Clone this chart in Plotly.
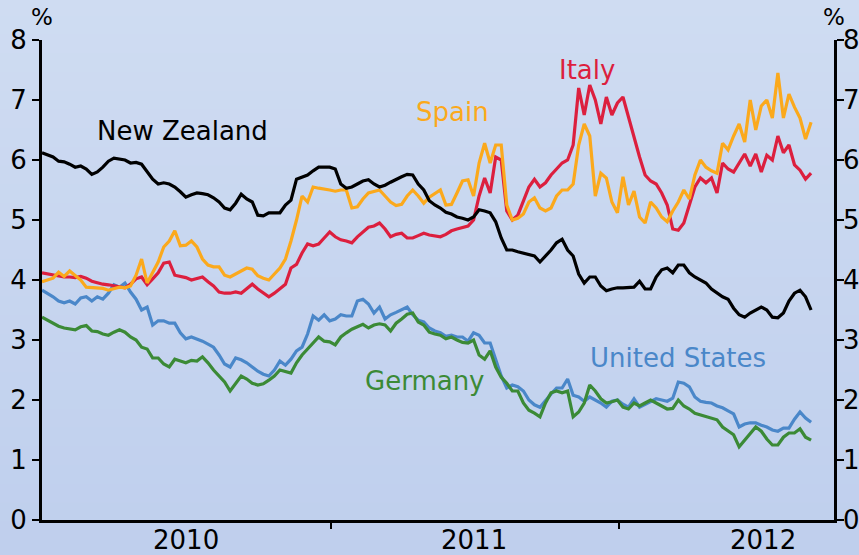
import pandas as pd
import plotly.graph_objects as go

# Weekly observations, 10-year government bond yields (%)
dates = pd.date_range("2010-01-01", periods=140, freq="7D")

new_zealand = [
    6.12, 6.08, 6.05, 5.98, 5.97, 5.93, 5.88, 5.90, 5.85, 5.76,
    5.80, 5.88, 5.98, 6.03, 6.02, 6.00, 5.95, 5.96, 5.93, 5.80,
    5.68, 5.60, 5.62, 5.60, 5.55, 5.47, 5.38, 5.42, 5.45, 5.44,
    5.42, 5.37, 5.30, 5.20, 5.17, 5.28, 5.43, 5.35, 5.30, 5.08,
    5.07, 5.12, 5.12, 5.12, 5.25, 5.33, 5.68, 5.72, 5.75, 5.82,
    5.88, 5.88, 5.88, 5.85, 5.60, 5.53, 5.55, 5.60, 5.65, 5.67,
    5.60, 5.55, 5.58, 5.63, 5.68, 5.72, 5.76, 5.75, 5.60, 5.50,
    5.32, 5.25, 5.20, 5.13, 5.10, 5.05, 5.03, 5.00, 5.05, 5.17,
    5.15, 5.12, 4.97, 4.70, 4.50, 4.50, 4.47, 4.45, 4.43, 4.40,
    4.30, 4.40, 4.50, 4.62, 4.68, 4.50, 4.40, 4.10, 3.95, 4.05,
    4.05, 3.90, 3.82, 3.85, 3.87, 3.87, 3.88, 3.88, 3.98, 3.85,
    3.85, 4.05, 4.17, 4.20, 4.12, 4.25, 4.25, 4.12, 4.05, 4.00,
    3.95, 3.85, 3.78, 3.72, 3.68, 3.53, 3.42, 3.38, 3.45, 3.50,
    3.55, 3.50, 3.38, 3.37, 3.45, 3.65, 3.78, 3.83, 3.72, 3.50,
]

italy = [
    4.12, 4.10, 4.08, 4.06, 4.05, 4.05, 4.04, 4.06, 4.03, 3.98,
    3.95, 3.93, 3.92, 3.90, 3.88, 3.87, 3.93, 4.02, 4.05, 3.92,
    4.02, 4.12, 4.28, 4.30, 4.08, 4.06, 4.04, 4.00, 4.03, 4.05,
    3.97, 3.90, 3.80, 3.78, 3.78, 3.80, 3.78, 3.85, 3.93, 3.85,
    3.78, 3.72, 3.78, 3.85, 3.93, 4.20, 4.26, 4.45, 4.60, 4.57,
    4.60, 4.70, 4.80, 4.72, 4.67, 4.65, 4.62, 4.72, 4.80, 4.88,
    4.90, 4.95, 4.85, 4.72, 4.76, 4.78, 4.70, 4.70, 4.74, 4.78,
    4.75, 4.73, 4.72, 4.76, 4.82, 4.85, 4.87, 4.90, 5.00, 5.40,
    5.70, 5.45, 6.05, 6.00, 5.15, 5.00, 5.08, 5.30, 5.55, 5.68,
    5.55, 5.62, 5.75, 5.85, 5.95, 6.00, 6.25, 7.20, 6.75, 7.25,
    7.00, 6.60, 7.05, 6.75, 6.95, 7.05, 6.70, 6.35, 6.05, 5.75,
    5.65, 5.60, 5.45, 5.25, 4.85, 4.83, 4.95, 5.25, 5.55, 5.70,
    5.62, 5.70, 5.45, 5.95, 5.85, 5.80, 5.95, 6.10, 5.90, 6.10,
    5.80, 6.08, 6.00, 6.40, 6.12, 6.25, 5.92, 5.83, 5.68, 5.78,
]

spain = [
    3.97, 4.00, 4.03, 4.13, 4.06, 4.15, 4.08, 4.00, 3.88, 3.87,
    3.87, 3.86, 3.83, 3.86, 3.88, 3.87, 3.90, 4.08, 4.35, 3.95,
    4.12, 4.30, 4.55, 4.65, 4.82, 4.57, 4.58, 4.65, 4.55, 4.35,
    4.25, 4.22, 4.22, 4.08, 4.05, 4.10, 4.15, 4.20, 4.18, 4.07,
    4.03, 4.00, 4.10, 4.20, 4.35, 4.65, 5.00, 5.40, 5.30, 5.55,
    5.53, 5.52, 5.50, 5.48, 5.50, 5.50, 5.20, 5.22, 5.35, 5.45,
    5.48, 5.50, 5.40, 5.30, 5.24, 5.26, 5.40, 5.50, 5.40, 5.28,
    5.38, 5.44, 5.50, 5.25, 5.26, 5.45, 5.65, 5.67, 5.40, 5.95,
    6.28, 5.95, 6.25, 6.25, 5.25, 5.00, 5.03, 5.10, 5.30, 5.37,
    5.20, 5.15, 5.20, 5.40, 5.50, 5.50, 5.60, 6.25, 6.60, 6.40,
    5.40, 5.78, 5.70, 5.30, 5.12, 5.72, 5.25, 5.48, 5.05, 4.95,
    5.30, 5.20, 5.05, 4.97, 5.15, 5.30, 5.50, 5.35, 5.75, 6.00,
    5.88, 5.82, 5.78, 6.28, 6.17, 6.40, 6.60, 6.30, 7.00, 6.50,
    6.90, 7.00, 6.70, 7.45, 6.70, 7.10, 6.88, 6.70, 6.35, 6.63,
]

united_states = [
    3.83, 3.78, 3.72, 3.65, 3.62, 3.65, 3.60, 3.70, 3.72, 3.65,
    3.72, 3.68, 3.78, 3.92, 3.88, 3.95, 3.80, 3.68, 3.50, 3.55,
    3.25, 3.32, 3.32, 3.28, 3.28, 3.12, 3.02, 3.05, 3.02, 2.98,
    2.93, 2.88, 2.75, 2.60, 2.55, 2.70, 2.67, 2.62, 2.55, 2.48,
    2.43, 2.40, 2.50, 2.65, 2.58, 2.68, 2.82, 2.88, 3.10, 3.40,
    3.33, 3.42, 3.32, 3.35, 3.42, 3.40, 3.40, 3.65, 3.68, 3.60,
    3.45, 3.55, 3.35, 3.42, 3.46, 3.50, 3.55, 3.42, 3.33, 3.30,
    3.20, 3.15, 3.12, 3.06, 3.08, 3.05, 3.05, 2.98, 3.12, 3.08,
    2.95, 2.95, 2.68, 2.40, 2.20, 2.25, 2.22, 2.15, 2.00, 1.92,
    1.88, 2.00, 2.10, 2.20, 2.20, 2.35, 2.08, 2.05, 1.98, 2.05,
    2.00, 1.95, 1.88, 1.98, 2.00, 1.93, 1.88, 2.02, 1.88, 1.93,
    1.98, 2.02, 2.00, 1.98, 2.03, 2.30, 2.28, 2.22, 2.05, 1.98,
    1.96, 1.95, 1.90, 1.87, 1.82, 1.77, 1.55, 1.60, 1.62, 1.62,
    1.58, 1.55, 1.50, 1.48, 1.53, 1.53, 1.68, 1.80, 1.70, 1.63,
]

germany = [
    3.38, 3.33, 3.28, 3.23, 3.20, 3.18, 3.17, 3.22, 3.24, 3.15,
    3.14, 3.10, 3.08, 3.13, 3.17, 3.13, 3.05, 3.00, 2.88, 2.85,
    2.70, 2.70, 2.60, 2.55, 2.68, 2.65, 2.62, 2.66, 2.65, 2.72,
    2.62, 2.50, 2.40, 2.30, 2.15, 2.28, 2.40, 2.35, 2.28, 2.25,
    2.27, 2.33, 2.40, 2.50, 2.47, 2.45, 2.62, 2.75, 2.85, 2.95,
    3.05, 2.98, 2.97, 2.92, 3.05, 3.12, 3.18, 3.22, 3.26, 3.20,
    3.25, 3.27, 3.25, 3.15, 3.28, 3.35, 3.43, 3.45, 3.30, 3.25,
    3.13, 3.10, 3.08, 3.02, 3.05, 3.00, 2.96, 2.95, 3.00, 2.75,
    2.68, 2.82, 2.55, 2.38, 2.28, 2.15, 2.15, 1.95, 1.83, 1.78,
    1.72, 1.95, 2.12, 2.15, 2.12, 2.15, 1.72, 1.80, 1.95, 2.25,
    2.15, 2.02, 1.95, 1.97, 2.00, 1.88, 1.85, 1.95, 1.90, 1.95,
    2.00, 1.95, 1.90, 1.85, 1.86, 2.00, 1.90, 1.85, 1.78, 1.75,
    1.72, 1.70, 1.67, 1.55, 1.48, 1.42, 1.22, 1.33, 1.45, 1.55,
    1.48, 1.35, 1.25, 1.25, 1.38, 1.45, 1.45, 1.52, 1.38, 1.33,
]

year_labels = ["2010", "2011", "2012"]
year_centres = ["2010-07-02", "2011-07-02", "2012-07-01"]
year_bounds = ["2011-01-01", "2012-01-01"]
y_ticks = [0, 1, 2, 3, 4, 5, 6, 7, 8]

FONT = "DejaVu Sans"
series = [
    ("United States", united_states, "#4a87c9"),
    ("Germany", germany, "#3b8a36"),
    ("Italy", italy, "#dc1f3e"),
    ("Spain", spain, "#fba91c"),
    ("New Zealand", new_zealand, "#000000"),
]

fig = go.Figure()
for name, vals, col in series:
    fig.add_trace(go.Scatter(x=dates, y=vals, mode="lines", name=name,
                             line=dict(color=col, width=3.2), showlegend=False))

# label positions (paper coords) and colours
labels = [
    ("New Zealand", 0.177, 0.810, "#000000"),
    ("Spain", 0.518, 0.850, "#fba91c"),
    ("Italy", 0.688, 0.937, "#dc1f3e"),
    ("United States", 0.803, 0.337, "#4a87c9"),
    ("Germany", 0.484, 0.290, "#3b8a36"),
]
annotations = []
for txt, px, py, col in labels:
    annotations.append(dict(text=txt, x=px, y=py, xref="paper", yref="paper",
                            showarrow=False, xanchor="center", yanchor="middle",
                            font=dict(family=FONT, size=26, color=col)))
for px in (0, 1):
    annotations.append(dict(text="%", x=px, y=1.048, xref="paper", yref="paper",
                            showarrow=False, xanchor="center", yanchor="middle",
                            font=dict(family=FONT, size=23, color="black")))
# year labels centred within each calendar year
for lab, xc in zip(year_labels, year_centres):
    annotations.append(dict(text=lab, x=xc, y=-0.042, xref="x", yref="paper",
                            showarrow=False, xanchor="center", yanchor="middle",
                            font=dict(family=FONT, size=26, color="black")))
# right-hand axis tick labels (same scale as the left axis)
for v in y_ticks:
    annotations.append(dict(text=str(v), x=1, y=v, xref="paper", yref="y",
                            showarrow=False, xanchor="left", yanchor="middle",
                            xshift=7,
                            font=dict(family=FONT, size=26, color="black")))

# background gradient
shapes = []
N = 30
top = (207, 220, 242)
bot = (191, 207, 237)
y_lo, y_hi = -0.08, 1.09
for k in range(N):
    t = k / (N - 1)
    c = tuple(round(bot[i] + (top[i] - bot[i]) * t) for i in range(3))
    shapes.append(dict(type="rect", xref="paper", yref="paper", layer="below",
                       x0=-0.07, x1=1.07,
                       y0=y_lo + (y_hi - y_lo) * k / N,
                       y1=y_lo + (y_hi - y_lo) * (k + 1) / N + 0.002,
                       line=dict(width=0), fillcolor="rgb(%d,%d,%d)" % c))

fig.update_layout(
    width=859, height=555,
    margin=dict(l=42, r=25, t=40, b=35, autoexpand=False),
    paper_bgcolor="rgb(199,214,240)",
    plot_bgcolor="rgba(0,0,0,0)",
    shapes=shapes,
    annotations=annotations,
    xaxis=dict(type="date", range=["2010-01-01", "2012-09-29"],
               showticklabels=False, ticks="",
               showline=True, linewidth=3, linecolor="black", showgrid=False,
               zeroline=False, automargin=False,
               minor=dict(tickvals=year_bounds, ticks="outside", ticklen=6,
                          tickwidth=2, tickcolor="black", showgrid=False)),
    yaxis=dict(range=[0, 8], tickvals=y_ticks, ticks="outside", ticklen=7,
               tickwidth=2, tickcolor="black", showline=True, linewidth=3,
               linecolor="black", mirror="ticks", showgrid=False,
               zeroline=False, automargin=False,
               tickfont=dict(family=FONT, size=26, color="black")),
)

fig.write_html("out.html",
               config={"displayModeBar": False},
               post_script="document.body.style.margin='0';"
                           "document.body.style.overflow='hidden';")
